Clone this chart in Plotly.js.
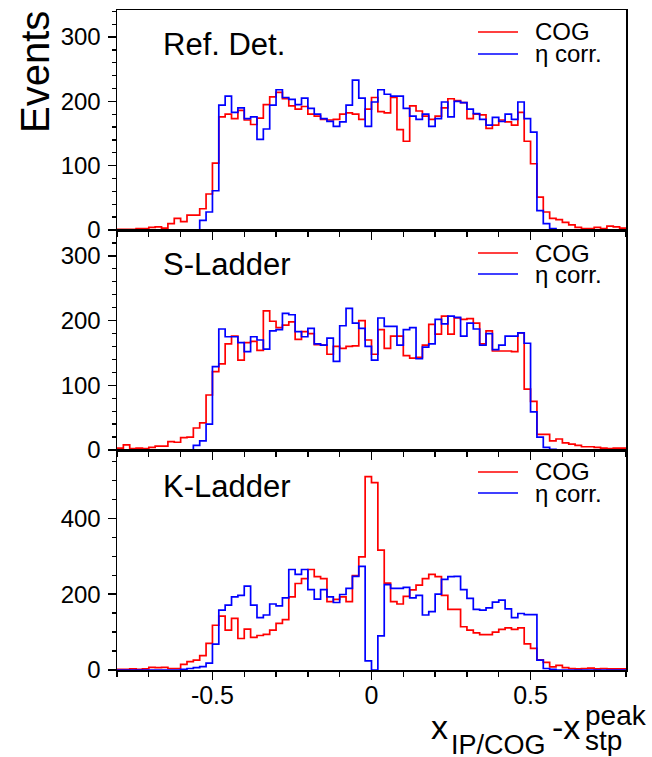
<!DOCTYPE html>
<html>
<head>
<meta charset="utf-8">
<script src="https://cdn.plot.ly/plotly-3.0.1.min.js"></script>
<style>html,body{margin:0;padding:0;background:#fff;}#chart{width:652px;height:757px;}</style>
</head>
<body>
<div id="chart"></div>
<script>
// Histogram binning: 80 bins from -0.8 to 0.8
const xMin = -0.8;
const binWidth = 0.02;
const nBins = 80;

const panelNames = ["Ref. Det.", "S-Ladder", "K-Ladder"];
const seriesNames = ["COG", "\u03b7 corr."];
const xTickVals = [-0.5, 0, 0.5];
const xTickText = ["-0.5", "0", "0.5"];

// Ref. Det.
const refCOG = [1,1,1,2,2,4,5,3,10,18,13,23,23,33,56,104,176,180,173,186,
  171,164,174,195,207,214,204,193,188,192,180,177,172,171,172,180,182,180,172,188,
  206,184,182,206,156,138,193,185,177,172,177,190,204,201,198,173,180,179,158,163,
  171,168,163,183,138,103,51,28,18,16,12,8,4,2,2,4,2,6,5,3];
const refEta = [0,0,0,0,0,0,0,0,0,0,0,0,0,15,28,61,194,208,183,190,
  173,176,141,157,194,218,206,203,195,205,189,180,173,169,161,168,194,233,205,161,
  199,218,211,208,208,189,177,172,180,161,173,199,176,200,198,188,181,172,163,175,
  169,180,172,199,173,152,30,10,2,0,0,0,0,0,0,0,0,0,0,0];

// S-Ladder
const sCOG = [3,8,2,3,2,4,6,6,13,12,19,20,34,42,85,121,133,164,176,139,
  166,168,154,215,199,189,193,198,171,183,180,163,162,148,160,157,160,161,200,170,
  148,186,157,176,176,146,142,143,162,194,179,207,179,204,202,203,196,164,184,153,
  153,153,152,181,94,75,24,24,14,17,11,9,7,5,5,4,3,2,3,3];
const sEta = [0,0,0,0,0,0,0,0,0,0,0,0,7,14,40,129,187,175,175,166,
  152,175,170,156,184,186,211,209,183,175,188,164,162,173,137,192,219,196,188,160,
  139,204,191,191,162,186,189,141,159,164,202,195,207,205,176,196,187,162,180,155,
  162,176,176,181,165,59,20,4,1,0,0,0,0,0,0,0,0,0,0,0];

// K-Ladder
const kCOG = [2,2,3,2,3,7,6,7,4,4,15,22,26,38,70,118,142,105,136,83,
  108,86,91,94,105,123,133,193,228,241,265,246,241,180,186,193,180,249,298,510,
  494,316,229,180,174,194,211,224,241,252,246,197,160,160,114,105,98,93,93,100,
  107,111,107,111,69,57,27,20,8,12,6,4,3,4,5,3,4,3,3,3];
const kEta = [0,0,0,0,0,0,0,0,0,0,2,4,6,9,18,68,158,171,193,197,
  221,171,138,145,174,169,190,265,252,265,212,187,212,193,178,199,215,247,273,24,
  0,90,225,215,215,218,190,197,145,154,200,239,246,247,212,189,160,158,164,179,
  184,161,138,149,146,146,26,4,2,0,0,0,0,0,0,0,0,0,0,0];

const yRanges = [[0, 342], [0, 340], [0, 580]];
const yDticks = [100, 100, 200];
const yMinor = [20, 20, 50];

const FONT = "Liberation Sans, Arial, Helvetica, sans-serif";
const RED = "#ff0000", BLUE = "#0000ff";

const edges = [];
for (let k = 0; k <= nBins; k++) edges.push(+(xMin + k * binWidth).toFixed(4));

function stepY(vals) { return vals.concat([vals[vals.length - 1]]); }

const panels = [[refCOG, refEta], [sCOG, sEta], [kCOG, kEta]];
const traces = [];
panels.forEach((pair, p) => {
  const xa = p === 0 ? "x" : "x" + (p + 1);
  const ya = p === 0 ? "y" : "y" + (p + 1);
  [[pair[0], RED, seriesNames[0]], [pair[1], BLUE, seriesNames[1]]].forEach(([vals, col, nm]) => {
    traces.push({
      type: "scatter", mode: "lines", x: edges, y: stepY(vals),
      line: { shape: "hv", color: col, width: 1.7 },
      xaxis: xa, yaxis: ya, name: nm, showlegend: false, hoverinfo: "skip"
    });
  });
});

// Geometry in pixels
const W = 652, H = 757, ML = 117, MR = 26, MT = 10, MB = 87;
const PW = W - ML - MR, PH = H - MT - MB;
const px = v => (v - ML) / PW;
const py = v => (H - MB - v) / PH;

const layout = {
  width: W, height: H,
  margin: { l: ML, r: MR, t: MT, b: MB, pad: 0 },
  paper_bgcolor: "#fff", plot_bgcolor: "#fff",
  showlegend: false,
  font: { family: FONT, color: "#000", size: 24 },
  annotations: [], shapes: []
};

const domains = [[2/3, 1], [1/3, 2/3], [0, 1/3]];
for (let p = 0; p < 3; p++) {
  const xk = p === 0 ? "xaxis" : "xaxis" + (p + 1);
  const yk = p === 0 ? "yaxis" : "yaxis" + (p + 1);
  const ya = p === 0 ? "y" : "y" + (p + 1);
  layout[xk] = {
    domain: [0, 1], anchor: ya, range: [xMin, xMin + nBins * binWidth],
    tickmode: "array", tickvals: xTickVals, ticktext: xTickText,
    ticks: "outside", ticklen: 8, tickwidth: 1.3, tickcolor: "#000",
    minor: { tickmode: "linear", tick0: 0, dtick: 0.1, ticks: "outside", ticklen: 5, tickwidth: 1.3, tickcolor: "#000" },
    showticklabels: p === 2, tickfont: { family: FONT, size: 25, color: "#000" },
    ticklabelstandoff: -6,
    showline: true, linecolor: "#000", linewidth: 1.5, mirror: true,
    showgrid: false, zeroline: false, fixedrange: true
  };
  if (p > 0) layout[xk].matches = "x";
  layout[yk] = {
    domain: domains[p], anchor: p === 0 ? "x" : "x" + (p + 1), range: yRanges[p],
    tickmode: "linear", tick0: 0, dtick: yDticks[p],
    ticks: "outside", ticklen: 8, tickwidth: 1.3, tickcolor: "#000",
    minor: { tickmode: "linear", tick0: 0, dtick: yMinor[p], ticks: "outside", ticklen: 4, tickwidth: 1.3, tickcolor: "#000" },
    tickfont: { family: FONT, size: 24, color: "#000" },
    ticklabelstandoff: 2,
    showline: true, linecolor: "#000", linewidth: 1.5, mirror: true,
    showgrid: false, zeroline: false, fixedrange: true
  };
}

// Panel labels
const labelY = [44, 264, 486];
panelNames.forEach((t, p) => {
  layout.annotations.push({ xref: "paper", yref: "paper", x: px(162), y: py(labelY[p]),
    xanchor: "left", yanchor: "middle", text: t, showarrow: false, borderpad: 0,
    font: { family: FONT, size: 31, color: "#000" } });
});

// Legends (per panel)
const legRedY = [32, 253, 472];
const legBlueY = [54, 274, 493];
for (let p = 0; p < 3; p++) {
  [[legRedY[p], RED, seriesNames[0]], [legBlueY[p], BLUE, seriesNames[1]]].forEach(([yy, col, nm]) => {
    layout.shapes.push({ type: "line", xref: "paper", yref: "paper",
      x0: px(478), x1: px(518), y0: py(yy), y1: py(yy), line: { color: col, width: 1.7 } });
    layout.annotations.push({ xref: "paper", yref: "paper", x: px(534), y: py(yy),
      xanchor: "left", yanchor: "middle", text: nm, showarrow: false, borderpad: 0,
      font: { family: FONT, size: 24, color: "#000" } });
  });
}

// Y title
layout.annotations.push({ xref: "paper", yref: "paper", x: px(35), y: py(72),
  xanchor: "center", yanchor: "middle", text: "Events", textangle: -90, showarrow: false,
  font: { family: FONT, size: 40, color: "#000" } });

// X title pieces
const xt = [
  { t: "x", x: 430, base: 739, s: 34 },
  { t: "IP/COG", x: 450, base: 754, s: 27 },
  { t: "-x", x: 551, base: 739, s: 34 },
  { t: "peak", x: 584, base: 725, s: 28 },
  { t: "stp", x: 584, base: 750, s: 28 }
];
xt.forEach(o => {
  layout.annotations.push({ xref: "paper", yref: "paper", x: px(o.x), y: py(o.base - 0.3465 * o.s),
    xanchor: "left", yanchor: "middle", text: o.t, showarrow: false, borderpad: 0,
    font: { family: FONT, size: o.s, color: "#000" } });
});

Plotly.newPlot("chart", traces, layout, { staticPlot: true, displayModeBar: false });
</script>
</body>
</html>
